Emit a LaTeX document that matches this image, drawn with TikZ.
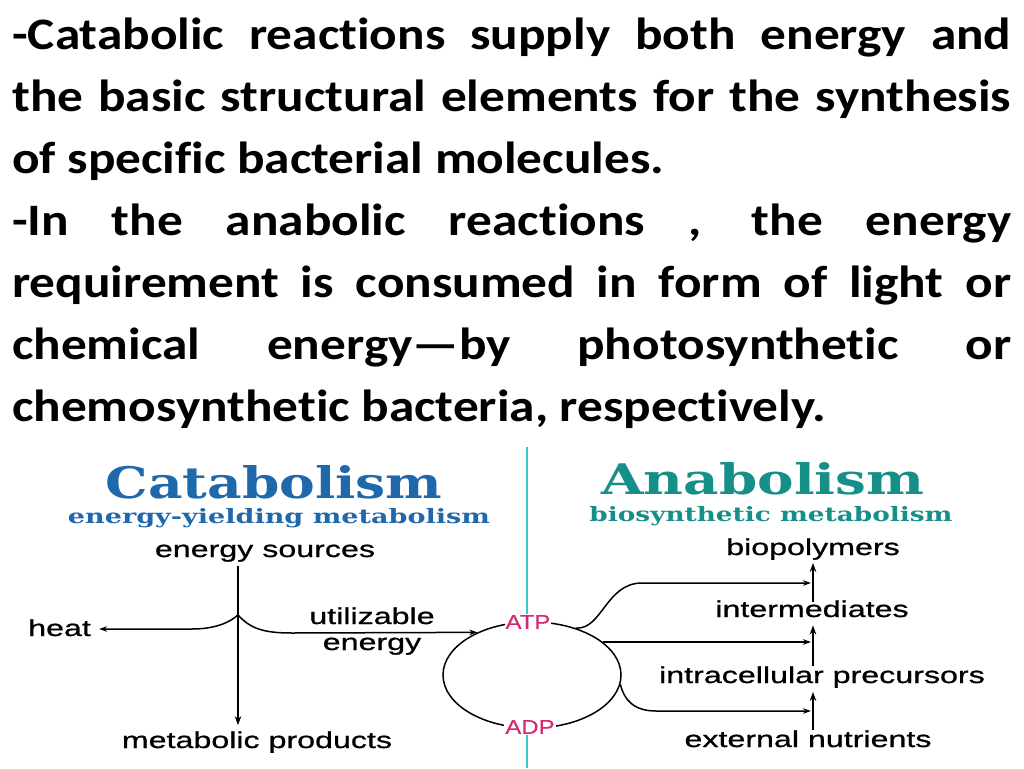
\documentclass[tikz,border=0pt]{standalone}
\usepackage{fontspec}
\setmainfont{Carlito}[FakeStretch=1.14, Ligatures=NoCommon]
\newfontfamily\labfont[FakeStretch=1.4, FakeBold=0.8]{Liberation Sans}
\newfontfamily\nucfont[FakeStretch=1.2, FakeBold=0.4]{Liberation Sans}
\newfontfamily\ttlfamily{DejaVu Serif}
\newcommand\ttlfont{\ttlfamily\bfseries}
\usetikzlibrary{arrows.meta,shapes.geometric}
\definecolor{catblue}{HTML}{1F68AC}
\definecolor{anateal}{HTML}{168F88}
\definecolor{atpred}{HTML}{D42A74}
\definecolor{divcyan}{HTML}{3CC6CE}
\tikzset{
  body/.style={anchor=base west, inner sep=0pt, font=\fontsize{45}{54}\selectfont\bfseries},
  lab/.style={anchor=base, inner sep=0pt, font=\labfont\fontsize{23}{26}\selectfont},
  nuc/.style={inner sep=1pt, fill=white, text=atpred, font=\nucfont\fontsize{20}{22}\selectfont},
  ttl/.style={anchor=base, inner sep=0pt},
  heavy/.style={line width=2.4pt, -{Stealth[length=9pt,width=6.5pt]}},
  lite/.style={line width=1.5pt, -{Stealth[length=8pt,width=5.5pt]}},
  divider/.style={line width=2.2pt, divcyan}
}
\begin{document}
\begin{tikzpicture}[x=1pt,y=-1pt]
\fill[white] (0,0) rectangle (1024,768);
\useasboundingbox (0,0) rectangle (1024,768);
% ---------- body text ----------
\node[body] (l1) at (12,49)  {\makebox[999pt][s]{-Catabolic reactions supply both energy and}};
\node[body] (l2) at (12,111) {\makebox[999pt][s]{the basic structural elements for the synthesis}};
\node[body] (l3) at (12,173) {of specific bacterial molecules.};
\node[body] (l4) at (12,235) {\makebox[999pt][s]{-In the anabolic reactions , the energy}};
\node[body] (l5) at (12,297) {\makebox[999pt][s]{requirement is consumed in form of light or}};
\node[body] (l6) at (12,359) {\makebox[999pt][s]{chemical energy—by photosynthetic or}};
\node[body] (l7) at (12,421) {chemosynthetic bacteria, respectively.};
% ---------- titles ----------
\node[ttl, text=catblue] (catT) at (274,498) {\resizebox{337pt}{33pt}{\ttlfont Catabolism}};
\node[ttl, text=catblue] (catS) at (279,523) {\resizebox{422pt}{15pt}{\ttlfont energy-yielding metabolism}};
\node[ttl, text=anateal] (anaT) at (763,494) {\resizebox{323pt}{32pt}{\ttlfont Anabolism}};
\node[ttl, text=anateal] (anaS) at (771,521) {\resizebox{363pt}{15pt}{\ttlfont biosynthetic metabolism}};
% ---------- catabolism labels ----------
\node[lab] (es) at (265,557) {energy sources};
\node[lab] (mp) at (257,748) {metabolic products};
\node[lab, anchor=base west] (heat) at (28,636) {heat};
\node[lab] (ue1) at (372,624) {utilizable};
\node[lab] (ue2) at (372,650) {energy};
% ---------- ATP / ADP cycle ----------
\node[draw, ellipse, line width=1.5pt, minimum width=178pt, minimum height=106pt, inner sep=0pt] (cyc) at (532,675) {};
\node[nuc] (atp) at (528,622) {ATP};
\node[nuc] (adp) at (530,727) {ADP};
\coordinate (ctop) at (527,447);
\coordinate (cbot) at (527,768);
\draw[divider] (ctop) -- (atp.north -| ctop);
\draw[divider] (adp.south -| cbot) -- (cbot);
% ---------- anabolism labels ----------
\node[lab] (bp) at (813,555) {biopolymers};
\node[lab] (im) at (812,617) {intermediates};
\node[lab] (ip) at (822,683) {intracellular precursors};
\node[lab] (en) at (808,747) {external nutrients};
% ---------- catabolism connectors ----------
\coordinate (J) at (238,615);
\draw[heavy] ([yshift=-4pt]J |- es.south) -- ([yshift=6pt]J |- mp.north);
\draw[lite, shorten >=8pt] (J) .. controls (228,624) and (212,629) .. (192,629) -- (heat.east |- 0,629);
\draw[lite] (J) .. controls (250,628) and (262,633) .. (292,633) -- (cyc.142);
% ---------- anabolism connectors ----------
\coordinate (V) at (813,0);
\coordinate (h1) at (811,583);
\coordinate (h3) at (811,711);
\draw[heavy] (en.north -| V) -- ([yshift=-4pt]ip.south -| V);
\draw[heavy] (ip.north -| V) -- ([yshift=-8pt]im.south -| V);
\draw[heavy] ([yshift=-2pt]im.north -| V) -- ([yshift=-3pt]bp.south -| V);
\draw[lite] (cyc.47) .. controls (602,630) and (606,583) .. (642,583) -- (h1);
\draw[lite] (cyc.25) -- (cyc.25 -| h1);
\draw[lite] (cyc.-6) .. controls (624,700) and (634,711) .. (656,711) -- (h3);
\end{tikzpicture}
\end{document}
